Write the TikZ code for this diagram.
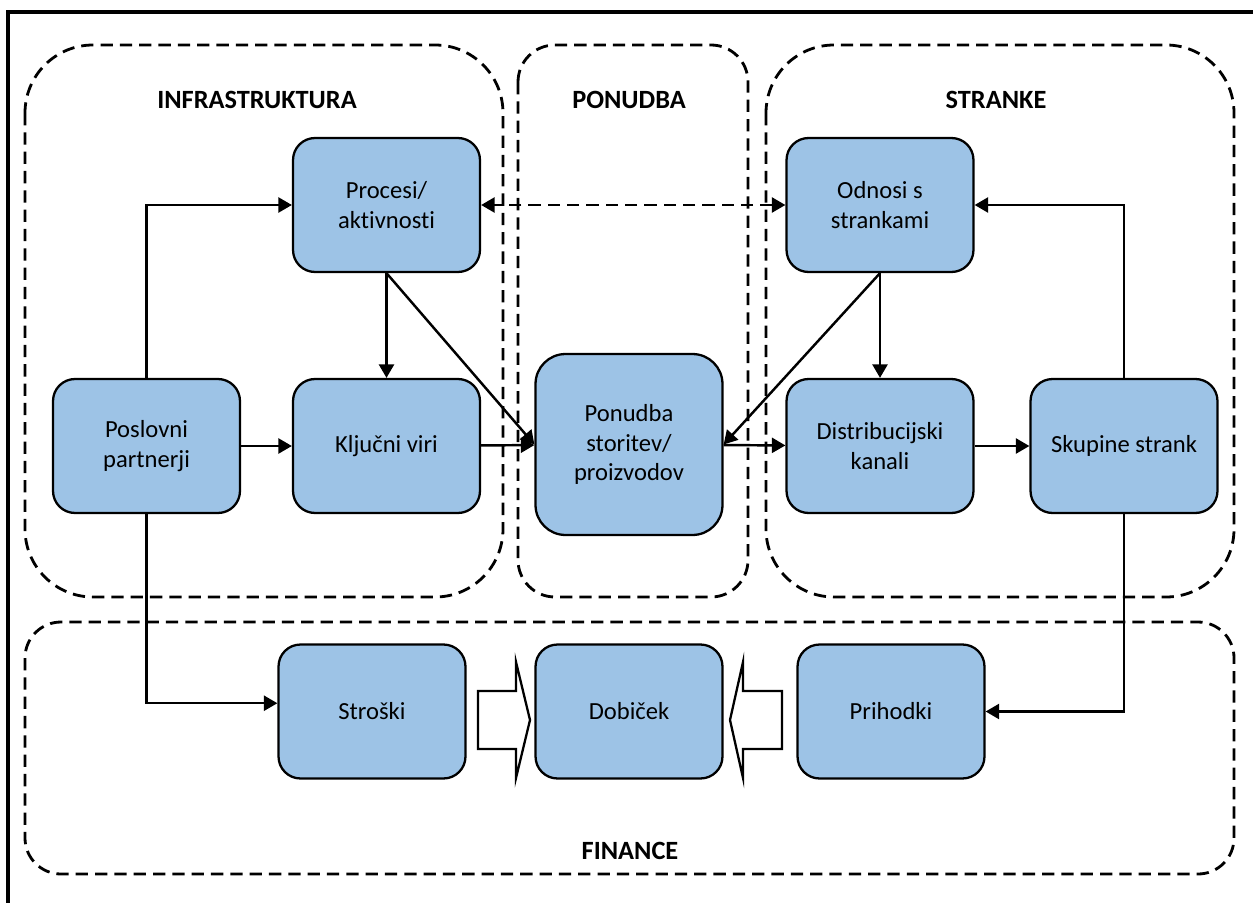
\documentclass[tikz,border=0pt]{standalone}
\usepackage{fontspec}
\setmainfont{Carlito}[Ligatures=NoCommon]
\usetikzlibrary{arrows.meta}
\definecolor{boxblue}{RGB}{157,195,230}
\tikzset{box/.style={draw, fill=boxblue, rounded corners=0.44cm, line width=1.3pt, minimum width=3.74cm, minimum height=2.68cm, align=center, font=\fontsize{14}{17}\selectfont}}
\tikzset{grp/.style={line width=1.6pt, dash pattern=on 7pt off 4pt}}
\tikzset{ttl/.style={font=\bfseries\fontsize{15}{18}\selectfont}}
\tikzset{hollow/.style={draw, fill=white, line width=1.3pt}}

\begin{document}
\begin{tikzpicture}[x=0.02cm, y=-0.02cm, line width=1.4pt, >={Triangle[length=0.27cm, width=0.3cm]}]
    \clip (0,0) rectangle (1253,902);
    \draw [line width=2.4pt] (8,12) rectangle (1290,940);
    % groups
    \draw [grp, rounded corners=1.36cm] (25,45) rectangle (503,597);
    \draw [grp, rounded corners=0.74cm] (518,45) rectangle (748,597);
    \draw [grp, rounded corners=1.36cm] (766,45) rectangle (1234,597);
    \draw [grp, rounded corners=0.72cm] (25,622) rectangle (1234,874);
    \node [ttl] (tinfra) at (257,100) {INFRASTRUKTURA};
    \node [ttl] (tponud) at (629,100) {PONUDBA};
    \node [ttl] (tstran) at (996,100) {STRANKE};
    \node [ttl] (tfin) at (630,851) {FINANCE};
    % top row
    \node (proc) at (386.5,205) [box] {Procesi/\\aktivnosti};
    \node (odn) at (880,205) [box] {Odnosi s\\strankami}
      edge [<->, dash pattern=on 7pt off 4pt] (proc);
    % middle row
    \node (posl) at (146.5,446) [box] {Poslovni\\partnerji};
    \node (kljuc) at (386.5,446) [box] {Ključni viri}
      edge [<-] (posl)
      edge [<-] (proc);
    \node (ponud) at (629,444.5) [box, minimum height=3.62cm, rounded corners=0.6cm] {Ponudba\\storitev/\\proizvodov}
      edge [<-] (kljuc);
    \node (distr) at (880,446) [box] {Distribucijski\\kanali}
      edge [<-] (ponud)
      edge [<-] (odn);
    \node (skup) at (1124,446) [box] {Skupine strank}
      edge [<-] (distr);
    \draw [->] (proc.south) -- (ponud.west);
    \draw [->] (odn.south) -- (ponud.east);
    \draw [->] (posl) |- (proc);
    \draw [->] (skup) |- (odn);
    % finance row
    \node (stros) at (372,711.5) [box] {Stroški};
    \node (dobic) at (629,711.5) [box] {Dobiček};
    \node (prih) at (891,711.5) [box] {Prihodki};
    \draw [->] (posl) |- (stros.175);
    \draw [->] (skup) |- (prih);
    \draw [hollow] (478,691) -- (516,691) -- (516,662) -- (530,720) -- (516,778) -- (516,749) -- (478,749) -- cycle;
    \draw [hollow] (782,691) -- (743,691) -- (743,662) -- (730,720) -- (743,778) -- (743,749) -- (782,749) -- cycle;
\end{tikzpicture}
\end{document}
